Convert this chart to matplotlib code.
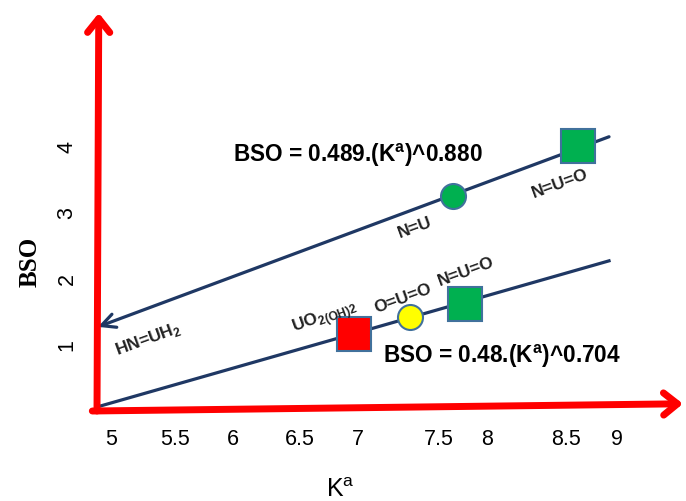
import matplotlib
matplotlib.use("Agg")
import matplotlib.pyplot as plt

plt.rcParams['font.family'] = ['Liberation Sans', 'DejaVu Sans']
plt.rcParams['mathtext.fontset'] = 'custom'
plt.rcParams['mathtext.rm'] = 'Liberation Sans'
plt.rcParams['mathtext.bf'] = 'Liberation Sans:bold'

# fitted lines
line_x = [4.897, 8.937]
upper_y = [1.26, 4.14]
lower_y = [0.05, 2.26]

# points on the upper line
up_x = [7.70, 8.69]
up_y = [3.24, 4.00]
up_marker = ['o', 's']
up_color = ['#00B050', '#00B050']

# points on the lower line
low_x = [6.92, 7.36, 7.80]
low_y = [1.15, 1.41, 1.61]
low_marker = ['s', 'o', 's']
low_color = ['#FF0000', '#FFFF00', '#00B050']

# labels of the species
species = ['N=U', 'N=U=O', 'N=U=O', 'O=U=O',
           r'UO$_{\mathregular{2(OH)2}}$', r'HN=UH$_{\mathregular{2}}$']
species_x = [7.40, 8.55, 7.81, 7.31, 6.69, 5.29]
species_y = [2.77, 3.45, 2.11, 1.71, 1.42, 1.08]

tick_pos = [5.0, 5.51, 5.96, 6.49, 6.95, 7.59, 7.97, 8.60, 9.0]
tick_labels = ['5', '5.5', '6', '6.5', '7', '7.5', '8', '8.5', '9']
ytick_pos = [1, 2, 3, 4]

fig = plt.figure(figsize=(6.86, 5.02), dpi=100)
W, H = 686, 502
# axes placed in pixels: left 97, right 683, bottom 412, top 10
ax = fig.add_axes([97 / W, (H - 412) / H, (683 - 97) / W, (412 - 10) / H])
ax.set_xlim(5 + (97 - 111) / 126.5, 5 + (683 - 111) / 126.5)
ax.set_ylim((411 - 412) / 66, (411 - 10) / 66)
for s in ax.spines.values():
    s.set_visible(False)

navy = '#1F3864'
edge = '#41719C'

# red axis arrows
ax.annotate('', xy=(0.003, 0.99), xytext=(0.0, 0.0), xycoords='axes fraction',
            arrowprops=dict(arrowstyle='->,head_length=1.0,head_width=0.8',
                            color='red', lw=5, shrinkA=0, shrinkB=0))
ax.annotate('', xy=(1.0, 0.018), xytext=(-0.008, 0.0), xycoords='axes fraction',
            arrowprops=dict(arrowstyle='->,head_length=1.0,head_width=0.8',
                            color='red', lw=5, shrinkA=0, shrinkB=0))

# lines
ax.plot(line_x, lower_y, color=navy, lw=2.3, zorder=2)
ax.annotate('', xy=(line_x[0], upper_y[0]), xytext=(line_x[1], upper_y[1]),
            arrowprops=dict(arrowstyle='->,head_length=1.0,head_width=0.5',
                            color=navy, lw=2.3, shrinkA=0, shrinkB=0), zorder=2)

for x, y, m, c in zip(up_x + low_x, up_y + low_y, up_marker + low_marker,
                      up_color + low_color):
    ms = 25 if m == 's' else 18
    ax.plot(x, y, marker=m, ms=ms, mfc=c, mec=edge, mew=1.5, zorder=3)

for t, x, y in zip(species, species_x, species_y):
    ax.text(x, y, t, rotation=20, ha='center', va='center',
            fontsize=12.5, fontweight='bold', color='#222222')

ax.text(5.964, 3.88, r'BSO = 0.489.(K$^{\mathbf{a}}$)^0.880', fontsize=16.3,
        fontweight='bold', ha='left', va='center')
ax.text(7.15, 0.82, r'BSO = 0.48.(K$^{\mathbf{a}}$)^0.704', fontsize=16.3,
        fontweight='bold', ha='left', va='center')

ax.set_xticks(tick_pos, tick_labels, fontsize=15.5)
ax.set_yticks(ytick_pos, [str(v) for v in ytick_pos], fontsize=15.5,
              rotation=90, va='center')
ax.tick_params(length=0, pad=12)
ax.tick_params(axis='y', pad=14)

fig.text(340 / W, 1 - 490 / H, r'K$^{\mathregular{a}}$', fontsize=18,
         ha='center', va='center')
fig.text(30 / W, 1 - 262 / H, 'BSO', fontsize=18, fontweight='bold',
         family='Liberation Serif', rotation=90, ha='center', va='center')

fig.savefig('out.png', dpi=100)
